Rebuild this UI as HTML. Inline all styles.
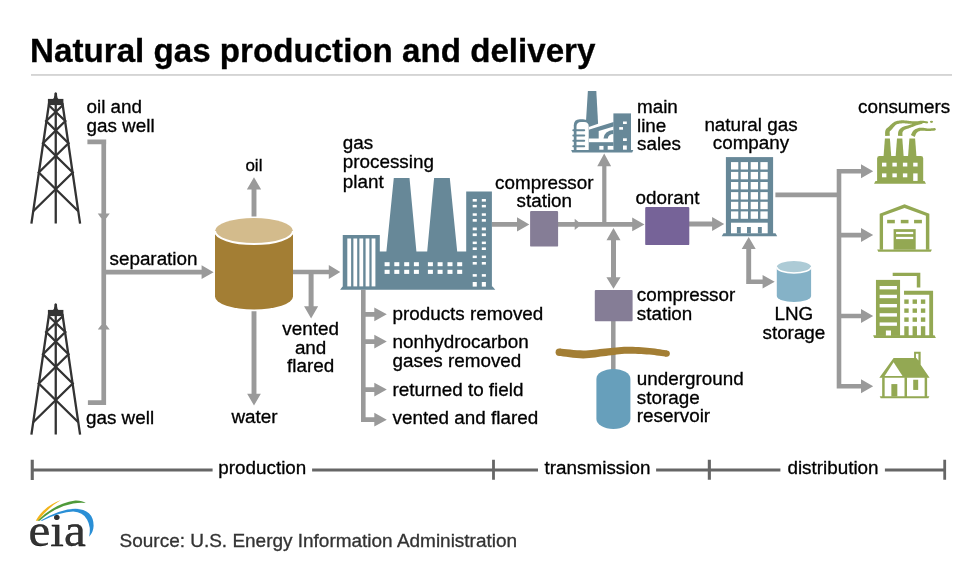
<!DOCTYPE html>
<html><head><meta charset="utf-8">
<style>
html,body{margin:0;padding:0;background:#fff;width:980px;height:564px;overflow:hidden}
svg{display:block;position:absolute;left:0;top:0;will-change:transform}
text{font-family:"Liberation Sans",sans-serif;font-size:18.85px;fill:#000;stroke:#000;stroke-width:0.32px}
</style></head><body>
<svg width="980" height="564" viewBox="0 0 980 564">
<text x="30.1" y="62" style="font-size:33.15px;font-weight:bold;fill:#000">Natural gas production and delivery</text>
<rect x="31.00" y="74.10" width="921.00" height="1.70" fill="#d0d0d0" />
<g transform="translate(0,0)">
<g fill="none" stroke="#333" stroke-width="2.3" stroke-linecap="butt">
<path d="M49.1 103 L31.4 223.6 M62.4 103 L80.1 223.6 M55.75 104 L55.75 223.6"/>
<path d="M48.5 105 L65.3 121 L43 143.3 L72.7 172.5 L33.2 211.3"/>
<path d="M63 105 L46.2 121 L68.5 143.3 L38.8 172.5 L78.3 211.3"/>
</g>
<path d="M47.9 98.9 L63.4 98.9 L63.4 105.1 L47.9 105.1 Z" fill="#333"/>
<path d="M52.8 99.2 Q54.2 98.2 54.3 95.5 L54.4 93.2 Q55.7 91.4 57 93.2 L57.1 95.5 Q57.2 98.2 58.6 99.2 Z" fill="#333"/>
</g>
<g transform="translate(0,211)">
<g fill="none" stroke="#333" stroke-width="2.3" stroke-linecap="butt">
<path d="M49.1 103 L31.4 223.6 M62.4 103 L80.1 223.6 M55.75 104 L55.75 223.6"/>
<path d="M48.5 105 L65.3 121 L43 143.3 L72.7 172.5 L33.2 211.3"/>
<path d="M63 105 L46.2 121 L68.5 143.3 L38.8 172.5 L78.3 211.3"/>
</g>
<path d="M47.9 98.9 L63.4 98.9 L63.4 105.1 L47.9 105.1 Z" fill="#333"/>
<path d="M52.8 99.2 Q54.2 98.2 54.3 95.5 L54.4 93.2 Q55.7 91.4 57 93.2 L57.1 95.5 Q57.2 98.2 58.6 99.2 Z" fill="#333"/>
</g>
<path fill="#9a9a9a" d="M87.40 139.45 L106.20 139.45 L106.20 144.15 L87.40 144.15Z M101.40 139.45 L106.10 139.45 L106.10 405.05 L101.40 405.05Z M87.90 400.35 L106.10 400.35 L106.10 405.05 L87.90 405.05Z M103.75 221.80 L97.75 213.60 L109.75 213.60Z M109.75 329.60 L97.75 329.60 L103.75 321.80Z M103.75 269.85 L203.00 269.85 L203.00 274.55 L103.75 274.55Z M201.60 279.10 L201.60 265.30 L213.60 272.20Z M251.55 189.00 L256.45 189.00 L256.45 216.50 L251.55 216.50Z M261.15 189.50 L246.85 189.50 L254.00 177.30Z M251.55 311.20 L256.45 311.20 L256.45 394.50 L251.55 394.50Z M254.00 405.50 L247.15 393.80 L260.85 393.80Z M293.00 269.65 L330.00 269.65 L330.00 274.35 L293.00 274.35Z M328.80 279.10 L328.80 264.90 L340.30 272.00Z M308.60 272.00 L313.60 272.00 L313.60 307.00 L308.60 307.00Z M311.10 318.40 L304.05 306.20 L318.15 306.20Z M361.00 289.80 L365.60 289.80 L365.60 422.00 L361.00 422.00Z M363.30 311.95 L375.00 311.95 L375.00 316.65 L363.30 316.65Z M374.30 321.20 L374.30 307.40 L386.80 314.30Z M363.30 339.25 L375.00 339.25 L375.00 343.95 L363.30 343.95Z M374.30 348.50 L374.30 334.70 L386.80 341.60Z M363.30 387.25 L375.00 387.25 L375.00 391.95 L363.30 391.95Z M374.30 396.50 L374.30 382.70 L386.80 389.60Z M363.30 417.35 L375.00 417.35 L375.00 422.05 L363.30 422.05Z M374.30 426.60 L374.30 412.80 L386.80 419.70Z M491.90 222.10 L518.00 222.10 L518.00 226.70 L491.90 226.70Z M517.00 231.45 L517.00 217.35 L529.30 224.40Z M558.00 222.10 L633.00 222.10 L633.00 226.70 L558.00 226.70Z M574.70 230.10 L574.70 218.70 L581.50 224.40Z M632.20 231.35 L632.20 217.45 L644.50 224.40Z M602.20 166.00 L606.40 166.00 L606.40 224.40 L602.20 224.40Z M611.15 166.20 L597.25 166.20 L604.20 153.40Z M611.00 239.00 L616.00 239.00 L616.00 278.00 L611.00 278.00Z M620.50 240.20 L606.50 240.20 L613.50 228.00Z M613.50 288.80 L606.40 277.30 L620.60 277.30Z M611.05 321.00 L615.55 321.00 L615.55 370.00 L611.05 370.00Z M689.00 221.60 L713.00 221.60 L713.00 226.40 L689.00 226.40Z M712.10 230.95 L712.10 217.05 L724.20 224.00Z M775.40 192.50 L841.30 192.50 L841.30 197.30 L775.40 197.30Z M836.70 168.90 L841.30 168.90 L841.30 388.50 L836.70 388.50Z M839.00 169.00 L862.00 169.00 L862.00 173.60 L839.00 173.60Z M861.00 178.30 L861.00 164.30 L873.20 171.30Z M839.00 232.80 L862.00 232.80 L862.00 237.40 L839.00 237.40Z M861.00 242.10 L861.00 228.10 L873.20 235.10Z M839.00 313.70 L862.00 313.70 L862.00 318.30 L839.00 318.30Z M861.00 323.00 L861.00 309.00 L873.20 316.00Z M839.00 383.90 L862.00 383.90 L862.00 388.50 L839.00 388.50Z M861.00 393.20 L861.00 379.20 L873.20 386.20Z M746.25 248.00 L751.15 248.00 L751.15 284.10 L746.25 284.10Z M755.70 249.00 L741.70 249.00 L748.70 237.10Z M746.20 279.50 L763.00 279.50 L763.00 284.10 L746.20 284.10Z M762.60 288.55 L762.60 275.05 L774.70 281.80Z"/>
<g>
<path d="M215 231 L215 296.5 A39 13 0 0 0 293 296.5 L293 231 Z" fill="#a37e34"/>
<ellipse cx="254" cy="231" rx="39" ry="13" fill="#d3bb8c"/>
<path d="M215 231 A39 13 0 0 0 293 231" fill="none" stroke="#fff" stroke-width="2"/>
</g>
<path fill="#678898" d="M342.75 287 L342.75 235.1 L379.8 235.1 L379.8 251.6 L386.4 251.6 L393.8 178.1 L409.5 178.1 L416.4 251.6 L427.2 251.6 L434.1 178.1 L449.8 178.1 L457.2 251.6 L466.2 251.6 L466.2 191.6 L491.9 191.6 L491.9 286.6 L492.5 286.6 L495.3 289.8 L340.1 289.8 L342.5 286.6 Z"/>
<rect x="347.30" y="238.50" width="3.80" height="47.90" fill="#fff" />
<rect x="353.40" y="238.50" width="3.80" height="47.90" fill="#fff" />
<rect x="359.40" y="238.50" width="3.80" height="47.90" fill="#fff" />
<rect x="365.60" y="238.50" width="3.80" height="47.90" fill="#fff" />
<rect x="371.60" y="238.50" width="3.80" height="47.90" fill="#fff" />
<rect x="384.60" y="262.20" width="5.00" height="4.00" fill="#fff" />
<rect x="384.60" y="269.80" width="5.00" height="4.10" fill="#fff" />
<rect x="394.30" y="262.20" width="5.00" height="4.00" fill="#fff" />
<rect x="394.30" y="269.80" width="5.00" height="4.10" fill="#fff" />
<rect x="404.20" y="262.20" width="5.00" height="4.00" fill="#fff" />
<rect x="404.20" y="269.80" width="5.00" height="4.10" fill="#fff" />
<rect x="413.90" y="262.20" width="5.00" height="4.00" fill="#fff" />
<rect x="413.90" y="269.80" width="5.00" height="4.10" fill="#fff" />
<rect x="427.90" y="262.20" width="5.00" height="4.00" fill="#fff" />
<rect x="427.90" y="269.80" width="5.00" height="4.10" fill="#fff" />
<rect x="437.60" y="262.20" width="5.00" height="4.00" fill="#fff" />
<rect x="437.60" y="269.80" width="5.00" height="4.10" fill="#fff" />
<rect x="447.50" y="262.20" width="5.00" height="4.00" fill="#fff" />
<rect x="447.50" y="269.80" width="5.00" height="4.10" fill="#fff" />
<rect x="457.20" y="262.20" width="5.00" height="4.00" fill="#fff" />
<rect x="457.20" y="269.80" width="5.00" height="4.10" fill="#fff" />
<rect x="472.70" y="199.00" width="4.10" height="2.60" fill="#fff" />
<rect x="481.80" y="199.00" width="4.10" height="2.60" fill="#fff" />
<rect x="472.70" y="204.90" width="4.10" height="2.50" fill="#fff" />
<rect x="481.80" y="204.90" width="4.10" height="2.50" fill="#fff" />
<rect x="472.70" y="213.30" width="4.10" height="2.50" fill="#fff" />
<rect x="481.80" y="213.30" width="4.10" height="2.50" fill="#fff" />
<rect x="472.70" y="219.10" width="4.10" height="2.60" fill="#fff" />
<rect x="481.80" y="219.10" width="4.10" height="2.60" fill="#fff" />
<rect x="472.70" y="227.50" width="4.10" height="2.80" fill="#fff" />
<rect x="481.80" y="227.50" width="4.10" height="2.80" fill="#fff" />
<rect x="472.70" y="233.40" width="4.10" height="2.70" fill="#fff" />
<rect x="481.80" y="233.40" width="4.10" height="2.70" fill="#fff" />
<rect x="472.70" y="241.60" width="4.10" height="2.50" fill="#fff" />
<rect x="481.80" y="241.60" width="4.10" height="2.50" fill="#fff" />
<rect x="472.70" y="247.40" width="4.10" height="2.60" fill="#fff" />
<rect x="481.80" y="247.40" width="4.10" height="2.60" fill="#fff" />
<rect x="472.70" y="255.60" width="4.10" height="2.50" fill="#fff" />
<rect x="481.80" y="255.60" width="4.10" height="2.50" fill="#fff" />
<rect x="472.70" y="262.00" width="4.10" height="2.60" fill="#fff" />
<rect x="481.80" y="262.00" width="4.10" height="2.60" fill="#fff" />
<rect x="472.70" y="274.10" width="4.10" height="2.60" fill="#fff" />
<rect x="481.80" y="274.10" width="4.10" height="2.60" fill="#fff" />
<rect x="472.70" y="282.00" width="4.10" height="4.60" fill="#fff" />
<rect x="481.80" y="282.00" width="4.10" height="4.60" fill="#fff" />
<rect x="530.1" y="210.9" width="28" height="35.7" rx="1.2" fill="#857d96"/>
<rect x="645.2" y="206.9" width="44.1" height="38.2" rx="1.2" fill="#766398"/>
<rect x="594.8" y="290" width="37.8" height="31.3" rx="1" fill="#857d96"/>
<polygon points="558.90,355.88 560.73,356.11 563.17,356.45 566.12,356.84 569.42,357.26 572.91,357.67 576.47,358.02 579.94,358.28 583.19,358.40 586.26,358.29 589.26,358.07 592.20,357.75 595.08,357.38 597.91,356.98 600.68,356.58 603.39,356.21 606.09,355.88 608.80,355.57 611.48,355.24 614.11,354.90 616.69,354.57 619.26,354.27 621.81,354.02 624.37,353.82 626.98,353.70 629.68,353.66 632.49,353.68 635.36,353.75 638.26,353.88 641.13,354.03 643.94,354.21 646.65,354.40 649.20,354.59 651.68,354.81 654.18,355.08 656.66,355.39 659.05,355.71 661.27,356.02 663.25,356.31 664.94,356.55 666.25,356.72 667.15,350.48 665.88,350.28 664.22,350.01 662.23,349.68 659.98,349.33 657.54,348.96 654.98,348.61 652.38,348.28 649.80,348.01 647.19,347.77 644.45,347.53 641.59,347.30 638.64,347.09 635.66,346.91 632.67,346.78 629.71,346.71 626.82,346.70 624.01,346.78 621.26,346.94 618.55,347.16 615.89,347.42 613.26,347.70 610.63,347.99 608.00,348.27 605.31,348.52 602.53,348.78 599.72,349.09 596.93,349.42 594.15,349.74 591.39,350.02 588.65,350.24 585.92,350.38 583.21,350.40 580.30,350.36 577.06,350.19 573.66,349.93 570.27,349.61 567.02,349.27 564.08,348.95 561.58,348.69 559.70,348.52" fill="#a37e34"/>
<circle cx="559.30" cy="352.20" r="3.70" fill="#a37e34"/>
<circle cx="666.70" cy="353.60" r="3.15" fill="#a37e34"/>
<rect x="596.4" y="368.9" width="34" height="60" rx="17" ry="10" fill="#679fbb"/>
<g fill="#678898">
<path d="M571.1 150.1 L633.3 150.1 L632.2 152.4 L572.2 152.4 Z"/>
<rect x="613.4" y="113.4" width="17.6" height="37"/>
<path d="M587.9 91 L596.3 91 L598.1 123.7 L588.8 126.9 L585.6 126.9 Z"/>
<path d="M573.8 150.5 L573.8 125.2 Q573.8 119.2 579.8 119.2 L583 119.2 Q589 119.2 589 125.2 L589 150.5 Z"/>
<path d="M588.7 129.7 L613.6 121.9 L613.6 126.4 L598.7 131.1 L598.7 138.6 L588.7 138.6 Z"/>
<path d="M603.5 138.6 A 9.9 8.6 0 0 1 613.4 130 L613.4 134 A 5.6 4.6 0 0 0 607.8 138.6 Z"/>
<rect x="588.7" y="142.2" width="24.8" height="8.2"/>
</g>
<g fill="#fff">
<path d="M576.5 150.1 L576.5 126.4 Q576.5 121.9 581 121.9 L584.2 121.9 Q588.7 121.9 588.7 126.4 L588.7 150.1 Z"/>
<rect x="623" y="121.5" width="3.8" height="2.5"/><rect x="619.2" y="127.1" width="3.8" height="2.6"/><rect x="623" y="138.3" width="3.8" height="2.7"/><rect x="623" y="145.5" width="3.8" height="4.2"/>
<rect x="599.3" y="145.9" width="4.2" height="3.8"/><rect x="607.7" y="145.9" width="5.6" height="3.8"/>
</g>
<g fill="#678898">
<rect x="572.3" y="129.35" width="12.9" height="1.9" rx="0.95"/>
<rect x="572.3" y="134.55" width="12.9" height="1.9" rx="0.95"/>
<rect x="572.3" y="139.85" width="12.9" height="1.9" rx="0.95"/>
<rect x="572.3" y="145.35" width="12.9" height="1.9" rx="0.95"/>
</g>
<g fill="#678898">
<rect x="725.90" y="157.10" width="47.20" height="77.40" fill="#678898" />
<polygon points="723.50,233.30 775.50,233.30 777.20,236.20 721.70,236.20" fill="#678898"/>
</g>
<rect x="731.00" y="162.10" width="7.30" height="7.40" fill="#fff" />
<rect x="731.00" y="171.90" width="7.30" height="7.40" fill="#fff" />
<rect x="731.00" y="182.00" width="7.30" height="7.40" fill="#fff" />
<rect x="731.00" y="192.10" width="7.30" height="7.40" fill="#fff" />
<rect x="731.00" y="201.80" width="7.30" height="7.40" fill="#fff" />
<rect x="731.00" y="211.40" width="7.30" height="7.40" fill="#fff" />
<rect x="740.70" y="162.10" width="7.30" height="7.40" fill="#fff" />
<rect x="740.70" y="171.90" width="7.30" height="7.40" fill="#fff" />
<rect x="740.70" y="182.00" width="7.30" height="7.40" fill="#fff" />
<rect x="740.70" y="192.10" width="7.30" height="7.40" fill="#fff" />
<rect x="740.70" y="201.80" width="7.30" height="7.40" fill="#fff" />
<rect x="740.70" y="211.40" width="7.30" height="7.40" fill="#fff" />
<rect x="750.70" y="162.10" width="7.30" height="7.40" fill="#fff" />
<rect x="750.70" y="171.90" width="7.30" height="7.40" fill="#fff" />
<rect x="750.70" y="182.00" width="7.30" height="7.40" fill="#fff" />
<rect x="750.70" y="192.10" width="7.30" height="7.40" fill="#fff" />
<rect x="750.70" y="201.80" width="7.30" height="7.40" fill="#fff" />
<rect x="750.70" y="211.40" width="7.30" height="7.40" fill="#fff" />
<rect x="760.40" y="162.10" width="7.30" height="7.40" fill="#fff" />
<rect x="760.40" y="171.90" width="7.30" height="7.40" fill="#fff" />
<rect x="760.40" y="182.00" width="7.30" height="7.40" fill="#fff" />
<rect x="760.40" y="192.10" width="7.30" height="7.40" fill="#fff" />
<rect x="760.40" y="201.80" width="7.30" height="7.40" fill="#fff" />
<rect x="760.40" y="211.40" width="7.30" height="7.40" fill="#fff" />
<rect x="731.00" y="222.70" width="36.70" height="10.60" fill="#fff" />
<rect x="736.90" y="227.00" width="3.90" height="6.50" fill="#678898" />
<rect x="747.00" y="227.00" width="3.90" height="6.50" fill="#678898" />
<rect x="757.90" y="227.00" width="3.90" height="6.50" fill="#678898" />
<path d="M776.8 267 L776.8 296 A17.15 6 0 0 0 811.1 296 L811.1 267 Z" fill="#85b2c7"/>
<ellipse cx="793.95" cy="267" rx="17.15" ry="6" fill="#adcbd6"/>
<path d="M776.8 267 A17.15 6 0 0 0 811.1 267" fill="none" stroke="#fff" stroke-width="1.6"/>
<g fill="#93a853">
<path d="M877.1 181 L877.1 158.5 Q877.1 156.1 879.5 156.1 L920.8 156.1 Q923.2 156.1 923.2 158.5 L923.2 181 Z"/>
<polygon points="875.50,180.90 924.50,180.90 926.00,183.70 874.00,183.70" fill="#93a853"/>
<polygon points="884.90,138.60 889.90,138.60 891.30,157.00 883.50,157.00" fill="#93a853"/>
<polygon points="897.00,138.60 902.30,138.60 903.70,157.00 895.60,157.00" fill="#93a853"/>
<polygon points="909.40,138.60 915.10,138.60 916.50,157.00 908.00,157.00" fill="#93a853"/>
</g>
<rect x="882.00" y="162.70" width="4.40" height="3.80" fill="#fff" />
<rect x="882.00" y="173.40" width="4.40" height="3.90" fill="#fff" />
<rect x="892.40" y="162.70" width="4.40" height="3.80" fill="#fff" />
<rect x="892.40" y="173.40" width="4.40" height="3.90" fill="#fff" />
<rect x="902.90" y="162.70" width="4.40" height="3.80" fill="#fff" />
<rect x="902.90" y="173.40" width="4.40" height="3.90" fill="#fff" />
<rect x="913.20" y="162.70" width="4.40" height="3.80" fill="#fff" />
<rect x="913.20" y="173.40" width="4.40" height="7.50" fill="#fff" />
<polygon points="889.85,135.84 889.83,135.41 889.78,134.83 889.73,134.21 889.69,133.55 889.66,132.91 889.67,132.35 889.70,131.93 889.73,131.72 889.75,131.63 889.80,131.51 889.93,131.34 890.14,131.11 890.44,130.83 890.81,130.49 891.24,130.08 891.68,129.62 892.05,129.16 892.40,128.72 892.75,128.29 893.09,127.86 893.42,127.44 893.75,127.05 894.07,126.68 894.41,126.33 894.78,125.97 895.12,125.61 895.42,125.30 895.69,125.04 895.96,124.81 896.24,124.60 896.58,124.41 897.00,124.22 897.55,124.05 898.21,123.88 898.94,123.74 899.72,123.61 900.54,123.50 901.38,123.41 902.22,123.34 903.02,123.30 903.80,123.29 904.61,123.32 905.44,123.39 906.30,123.47 907.18,123.57 908.08,123.66 909.00,123.74 909.91,123.80 910.81,123.84 911.72,123.87 912.65,123.91 913.57,123.94 914.49,123.95 915.38,123.95 916.24,123.94 917.08,123.90 917.87,123.81 918.60,123.68 919.27,123.53 919.88,123.37 920.45,123.22 920.98,123.10 921.50,123.00 922.02,122.95 922.62,122.94 923.31,122.96 924.03,123.02 924.76,123.09 925.46,123.17 926.10,123.25 926.65,123.31 927.07,123.34 927.33,121.46 926.94,121.38 926.42,121.27 925.78,121.14 925.06,121.01 924.29,120.88 923.51,120.77 922.73,120.69 921.98,120.65 921.26,120.68 920.58,120.75 919.95,120.86 919.34,120.98 918.75,121.10 918.17,121.19 917.57,121.27 916.92,121.30 916.20,121.31 915.40,121.30 914.55,121.28 913.68,121.24 912.78,121.19 911.87,121.13 910.97,121.07 910.09,121.00 909.25,120.93 908.39,120.83 907.52,120.71 906.64,120.59 905.74,120.48 904.82,120.38 903.90,120.32 902.98,120.30 902.07,120.32 901.15,120.37 900.23,120.44 899.31,120.53 898.42,120.65 897.57,120.80 896.76,120.97 896.00,121.18 895.29,121.42 894.65,121.71 894.07,122.03 893.57,122.38 893.13,122.72 892.74,123.05 892.37,123.35 891.99,123.67 891.54,124.04 891.09,124.45 890.65,124.86 890.22,125.28 889.82,125.69 889.43,126.09 889.05,126.46 888.72,126.78 888.43,127.03 888.11,127.27 887.73,127.55 887.30,127.88 886.82,128.29 886.33,128.82 885.86,129.47 885.47,130.28 885.24,131.17 885.13,132.04 885.09,132.88 885.09,133.70 885.11,134.45 885.14,135.11 885.16,135.61 885.15,135.96" fill="#93a853"/>
<circle cx="927.20" cy="122.40" r="0.95" fill="#93a853"/>
<polygon points="902.45,135.99 902.44,135.59 902.43,135.07 902.40,134.52 902.39,133.95 902.40,133.40 902.43,132.91 902.48,132.54 902.54,132.31 902.61,132.08 902.75,131.79 902.93,131.49 903.16,131.18 903.42,130.87 903.72,130.57 904.06,130.28 904.38,130.01 904.72,129.79 905.12,129.60 905.59,129.40 906.12,129.21 906.69,129.03 907.28,128.84 907.88,128.64 908.47,128.43 909.01,128.23 909.51,128.04 909.99,127.86 910.47,127.67 910.95,127.49 911.44,127.31 911.93,127.12 912.46,126.92 913.01,126.70 913.58,126.47 914.15,126.23 914.73,126.00 915.31,125.77 915.88,125.55 916.45,125.35 917.01,125.16 917.61,124.98 918.27,124.81 918.96,124.64 919.65,124.48 920.31,124.33 920.90,124.20 921.41,124.08 921.79,123.98 921.41,122.02 921.03,122.07 920.53,122.13 919.92,122.22 919.24,122.32 918.52,122.43 917.78,122.56 917.06,122.70 916.39,122.84 915.75,123.00 915.11,123.17 914.48,123.36 913.86,123.55 913.25,123.74 912.66,123.93 912.09,124.11 911.54,124.28 911.00,124.45 910.49,124.62 909.99,124.78 909.50,124.94 909.02,125.10 908.53,125.26 908.03,125.42 907.53,125.57 907.02,125.70 906.46,125.82 905.87,125.95 905.24,126.09 904.59,126.24 903.93,126.44 903.26,126.69 902.62,126.99 902.03,127.31 901.48,127.65 900.95,128.04 900.43,128.46 899.94,128.93 899.48,129.45 899.05,130.02 898.66,130.69 898.38,131.48 898.20,132.30 898.10,133.08 898.04,133.82 898.02,134.50 898.00,135.08 897.98,135.51 897.95,135.81" fill="#93a853"/>
<circle cx="921.60" cy="123.00" r="1.00" fill="#93a853"/>
<polygon points="914.77,136.88 914.93,136.48 915.14,135.95 915.36,135.39 915.60,134.80 915.85,134.22 916.12,133.69 916.36,133.27 916.58,132.98 916.83,132.70 917.17,132.40 917.56,132.11 918.00,131.83 918.46,131.57 918.94,131.34 919.43,131.13 919.89,130.95 920.31,130.84 920.76,130.76 921.24,130.71 921.74,130.68 922.27,130.67 922.82,130.68 923.37,130.69 923.91,130.70 924.36,130.72 924.76,130.76 925.18,130.83 925.63,130.90 926.12,130.98 926.68,131.05 927.31,131.09 928.00,131.10 928.79,131.07 929.68,131.01 930.64,130.92 931.61,130.83 932.55,130.73 933.39,130.63 934.09,130.55 934.60,130.50 934.40,128.10 933.87,128.14 933.16,128.19 932.31,128.26 931.39,128.34 930.44,128.41 929.52,128.46 928.68,128.50 928.00,128.50 927.46,128.47 926.99,128.42 926.55,128.34 926.12,128.25 925.68,128.15 925.19,128.05 924.66,127.96 924.09,127.90 923.55,127.85 922.99,127.79 922.41,127.73 921.79,127.68 921.15,127.66 920.49,127.67 919.80,127.73 919.11,127.85 918.45,127.99 917.79,128.17 917.12,128.38 916.44,128.64 915.77,128.95 915.10,129.30 914.46,129.72 913.82,130.22 913.22,130.86 912.70,131.56 912.26,132.28 911.87,132.98 911.53,133.63 911.24,134.20 911.01,134.63 910.83,134.92" fill="#93a853"/>
<circle cx="934.50" cy="129.30" r="1.20" fill="#93a853"/>
<ellipse cx="931.5" cy="121.8" rx="1.6" ry="1.1" fill="#93a853"/>
<g transform="translate(870,195) scale(0.12418)" fill="#93a853">
<path d="M78 440 L78 150 L278 75 L478 150 L478 440 L450 440 L450 168 L278 105 L105 168 L105 440 Z"/>
<path d="M58 438 L498 438 L490 458 L66 458 Z"/>
<rect x="138" y="200" width="62" height="28"/><rect x="248" y="200" width="62" height="28"/><rect x="355" y="200" width="63" height="28"/>
<path d="M190 440 L190 275 L368 275 L368 440 Z"/>
</g>
<g transform="translate(870,195) scale(0.12418)" fill="#fff">
<rect x="210" y="297" width="138" height="18"/><rect x="210" y="337" width="138" height="18"/>
</g>
<g transform="translate(870,265) scale(0.14178)" fill="#93a853">
<rect x="42" y="105" width="170" height="395"/>
<path d="M22 495 L455 495 L465 515 L30 515 Z"/>
<path d="M160 55 L355 55 L355 158 L330 158 L330 78 L160 78 Z"/>
<path d="M240 182 L445 182 L445 500 L418 500 L418 210 L240 210 Z"/>
</g>
<g transform="translate(870,265) scale(0.14178)" fill="#fff">
<rect x="68" y="148" width="122" height="24"/>
<rect x="68" y="210" width="122" height="24"/>
<rect x="68" y="275" width="122" height="24"/>
<rect x="68" y="340" width="122" height="24"/>
<rect x="68" y="405" width="122" height="24"/>
<rect x="112" y="462" width="36" height="35"/>
</g>
<g transform="translate(895,285) scale(0.09766)" fill="#93a853">
<rect x="95" y="148" width="45" height="45"/>
<rect x="95" y="240" width="45" height="45"/>
<rect x="95" y="332" width="45" height="45"/>
<rect x="95" y="422" width="45" height="100"/>
<rect x="180" y="148" width="45" height="45"/>
<rect x="180" y="240" width="45" height="45"/>
<rect x="180" y="332" width="45" height="45"/>
<rect x="180" y="422" width="45" height="100"/>
<rect x="265" y="148" width="45" height="45"/>
<rect x="265" y="240" width="45" height="45"/>
<rect x="265" y="332" width="45" height="45"/>
<rect x="265" y="422" width="45" height="100"/>
</g>
<g transform="translate(870,340) scale(0.12418)" fill="#93a853">
<path d="M78 452 L478 452 L470 470 L86 470 Z"/>
<path d="M75 305 L190 145 L355 145 L355 95 L408 95 L408 200 L480 305 Z"/>
<rect x="98" y="300" width="20" height="160"/><rect x="278" y="300" width="20" height="160"/><rect x="440" y="300" width="20" height="160"/>
<rect x="172" y="355" width="48" height="100"/><rect x="348" y="320" width="40" height="82"/>
</g>
<g transform="translate(870,340) scale(0.12418)" fill="#fff">
<path d="M118 290 L190 180 L262 290 Z"/>
<path d="M370 110 L390 110 L390 165 L370 140 Z"/>
</g>
<text transform="translate(86.5,113.00) scale(1,1.0)" x="0" y="0">oil and</text>
<text transform="translate(86.5,132.40) scale(1,1.0)" x="0" y="0">gas well</text>
<text transform="translate(109.5,264.50) scale(1,1.0)" x="0" y="0">separation</text>
<text transform="translate(86,423.90) scale(1,1.0)" x="0" y="0">gas well</text>
<text transform="translate(245.4,171.10) scale(1,1.0)" x="0" y="0" style="font-size:17px">oil</text>
<text transform="translate(231.5,423.40) scale(1,1.0)" x="0" y="0">water</text>
<text transform="translate(310.6,334.60) scale(1,1.0)" x="0" y="0" text-anchor="middle">vented</text>
<text transform="translate(310.6,353.80) scale(1,1.0)" x="0" y="0" text-anchor="middle">and</text>
<text transform="translate(310.6,372.20) scale(1,1.0)" x="0" y="0" text-anchor="middle">flared</text>
<text transform="translate(342.8,149.00) scale(1,1.0)" x="0" y="0">gas</text>
<text transform="translate(342.8,168.40) scale(1,1.0)" x="0" y="0">processing</text>
<text transform="translate(342.8,187.50) scale(1,1.0)" x="0" y="0">plant</text>
<text transform="translate(392.5,320.20) scale(1,1.0)" x="0" y="0">products removed</text>
<text transform="translate(392.5,348.10) scale(1,1.0)" x="0" y="0">nonhydrocarbon</text>
<text transform="translate(392.5,366.70) scale(1,1.0)" x="0" y="0">gases removed</text>
<text transform="translate(392.5,395.90) scale(1,1.0)" x="0" y="0">returned to field</text>
<text transform="translate(392.5,423.80) scale(1,1.0)" x="0" y="0">vented and flared</text>
<text transform="translate(544.3,188.80) scale(1,1.0)" x="0" y="0" text-anchor="middle">compressor</text>
<text transform="translate(544.3,207.10) scale(1,1.0)" x="0" y="0" text-anchor="middle">station</text>
<text transform="translate(637,112.90) scale(1,1.0)" x="0" y="0">main</text>
<text transform="translate(637,131.70) scale(1,1.0)" x="0" y="0">line</text>
<text transform="translate(637,150.40) scale(1,1.0)" x="0" y="0">sales</text>
<text transform="translate(667.5,203.50) scale(1,1.0)" x="0" y="0" text-anchor="middle">odorant</text>
<text transform="translate(751,130.80) scale(1,1.0)" x="0" y="0" text-anchor="middle">natural gas</text>
<text transform="translate(751,148.80) scale(1,1.0)" x="0" y="0" text-anchor="middle">company</text>
<text transform="translate(636.8,301.30) scale(1,1.0)" x="0" y="0">compressor</text>
<text transform="translate(636.8,320.00) scale(1,1.0)" x="0" y="0">station</text>
<text transform="translate(636.8,384.90) scale(1,1.0)" x="0" y="0">underground</text>
<text transform="translate(636.8,403.50) scale(1,1.0)" x="0" y="0">storage</text>
<text transform="translate(636.8,422.10) scale(1,1.0)" x="0" y="0">reservoir</text>
<text transform="translate(793.9,320.30) scale(1,1.0)" x="0" y="0" text-anchor="middle">LNG</text>
<text transform="translate(793.9,338.60) scale(1,1.0)" x="0" y="0" text-anchor="middle">storage</text>
<text transform="translate(858,112.70) scale(1,1.0)" x="0" y="0">consumers</text>
<path fill="#666" d="M30.70 459.80 L33.80 459.80 L33.80 480.10 L30.70 480.10Z M30.70 468.40 L212.60 468.40 L212.60 471.40 L30.70 471.40Z M312.10 468.40 L538.00 468.40 L538.00 471.40 L312.10 471.40Z M492.10 459.80 L494.90 459.80 L494.90 479.80 L492.10 479.80Z M656.10 468.40 L780.40 468.40 L780.40 471.40 L656.10 471.40Z M707.80 459.80 L710.90 459.80 L710.90 479.80 L707.80 479.80Z M884.90 468.40 L946.10 468.40 L946.10 471.40 L884.90 471.40Z M943.30 459.80 L946.10 459.80 L946.10 479.80 L943.30 479.80Z"/>
<text transform="translate(262.3,474.20) scale(1,1.0)" x="0" y="0" text-anchor="middle">production</text>
<text transform="translate(597.5,474.20) scale(1,1.0)" x="0" y="0" text-anchor="middle">transmission</text>
<text transform="translate(833,474.20) scale(1,1.0)" x="0" y="0" text-anchor="middle">distribution</text>
<text transform="translate(28.4,546) scale(1.07,1)" x="0" y="0" style="font-family:'Liberation Serif',serif;font-size:46px;fill:#333">eia</text>
<g>
<g transform="translate(20,495) scale(0.10638)">
<path d="M148 242 Q 220 110 385 48 Q 260 120 170 242 Z" fill="#f2b41c"/>
<path d="M165 242 Q 330 75 520 52 Q 585 50 618 76 Q 570 68 500 80 Q 330 110 185 242 Z" fill="#4f9a3a"/>
<path d="M192 242 Q 380 132 520 130 Q 690 135 692 290 Q 690 350 650 392 Q 670 300 630 230 Q 590 160 500 156 Q 380 160 210 242 Z" fill="#2a8fd6"/>
</g>
<text x="119.6" y="546.8" style="font-size:18.98px;fill:#333;stroke:#333">Source: U.S. Energy Information Administration</text>
</svg>
</body></html>
